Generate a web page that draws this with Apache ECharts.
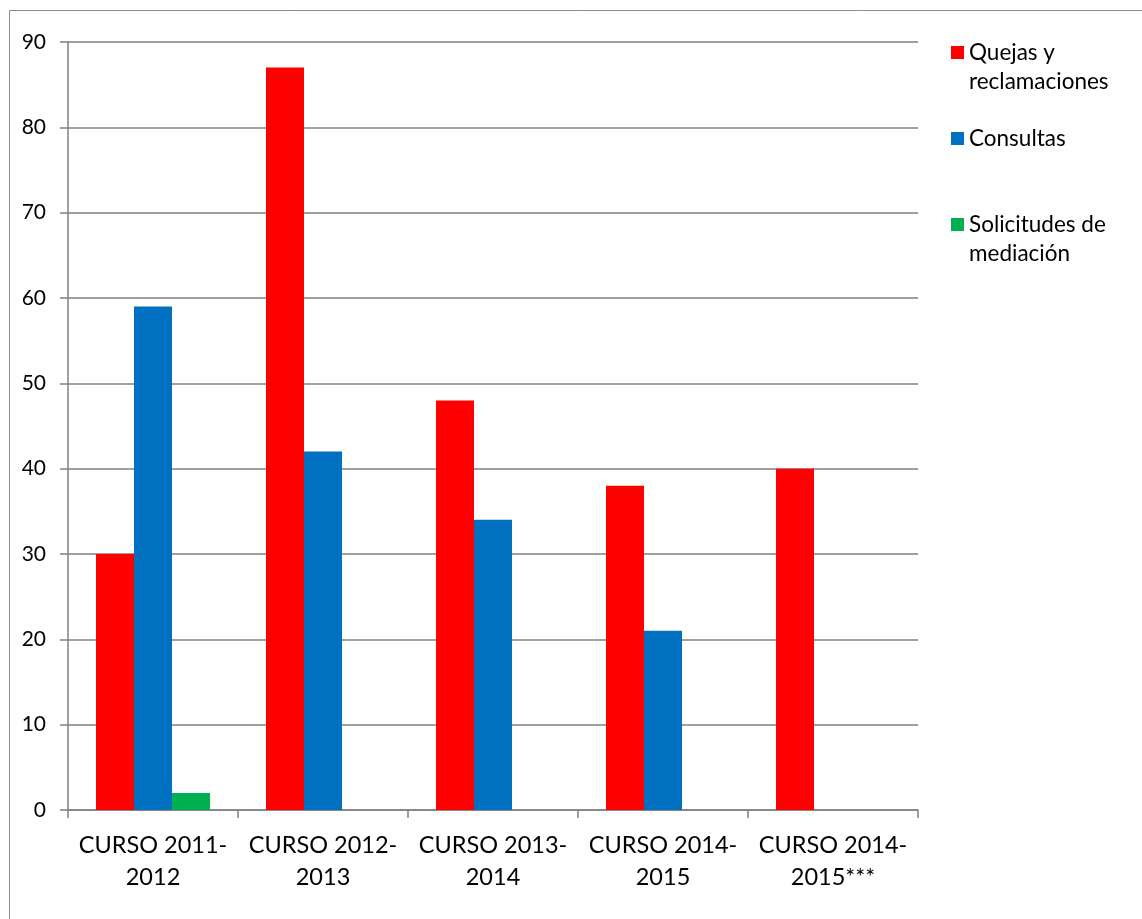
<!DOCTYPE html>
<html>
<head>
<meta charset="utf-8">
<script src="https://cdn.jsdelivr.net/npm/echarts@6/dist/echarts.min.js"></script>
<style>
html,body{margin:0;padding:0;background:#fff;}
#chart{width:1142px;height:919px;}
</style>
</head>
<body>
<div id="chart"></div>
<script>
const categories = ['CURSO 2011-\n2012', 'CURSO 2012-\n2013', 'CURSO 2013-\n2014', 'CURSO 2014-\n2015', 'CURSO 2014-\n2015***'];
const seriesNames = ['Quejas y\nreclamaciones', 'Consultas', 'Solicitudes de\nmediación'];
const quejas = [30, 87, 48, 38, 40];
const consultas = [59, 42, 34, 21, null];
const mediacion = [2, null, null, null, null];
const yTicks = [0, 10, 20, 30, 40, 50, 60, 70, 80, 90];
const colors = ['#ff0000', '#0070c0', '#00b050'];

const FONT = 'Lato';
const chart = echarts.init(document.getElementById('chart'), null, {renderer: 'canvas'});

const LH = 29;
const iconTops = [46, 132, 218];
const legends = seriesNames.map((name, i) => {
  const twoLine = name.indexOf('\n') >= 0;
  const iconCenter = iconTops[i] + 6.5;
  return {
    data: [{name: name, icon: 'rect'}],
    left: 951,
    top: twoLine ? iconCenter - 1.5 * LH : iconCenter - 0.5 * LH,
    orient: 'vertical',
    itemWidth: 13,
    itemHeight: 13,
    itemGap: 0,
    padding: 0,
    selectedMode: false,
    // a leading blank line keeps the icon level with the first text line
    formatter: n => (n.indexOf('\n') >= 0 ? '\n' + n : n),
    textStyle: {fontFamily: FONT, fontSize: 22.5, color: '#000', lineHeight: LH}
  };
});

chart.setOption({
  animation: false,
  backgroundColor: '#fff',
  graphic: [{
    type: 'rect', silent: true,
    shape: {x: 9.5, y: 10.5, width: 1300, height: 1000},
    style: {fill: 'none', stroke: '#8c8c8c', lineWidth: 1}
  }],
  legend: legends,
  grid: {left: 68, right: 224, top: 42, bottom: 109, containLabel: false},
  xAxis: {
    type: 'category',
    data: categories,
    axisLine: {show: true, lineStyle: {color: '#808080', width: 1.5}},
    axisTick: {show: true, alignWithLabel: false, length: 8, lineStyle: {color: '#808080', width: 1.5}},
    axisLabel: {fontFamily: FONT, fontSize: 23.5, color: '#000', margin: 19, lineHeight: 32, interval: 0},
    splitLine: {show: false}
  },
  yAxis: {
    type: 'value',
    min: 0, max: 90, interval: 10,
    axisLine: {show: true, lineStyle: {color: '#808080', width: 1.5}},
    axisTick: {show: true, length: 8, lineStyle: {color: '#808080', width: 1.5}},
    axisLabel: {fontFamily: FONT, fontSize: 21, color: '#000', margin: 22,
      formatter: v => yTicks.indexOf(v) >= 0 ? String(v) : ''},
    splitLine: {show: true, lineStyle: {color: '#808080', width: 1.5}}
  },
  series: [
    {name: seriesNames[0], type: 'bar', data: quejas, itemStyle: {color: colors[0]}, barWidth: 38, barGap: '0%', barCategoryGap: '33%'},
    {name: seriesNames[1], type: 'bar', data: consultas, itemStyle: {color: colors[1]}, barWidth: 38, barGap: '0%'},
    {name: seriesNames[2], type: 'bar', data: mediacion, itemStyle: {color: colors[2]}, barWidth: 38, barGap: '0%'}
  ]
});
</script>
</body>
</html>
